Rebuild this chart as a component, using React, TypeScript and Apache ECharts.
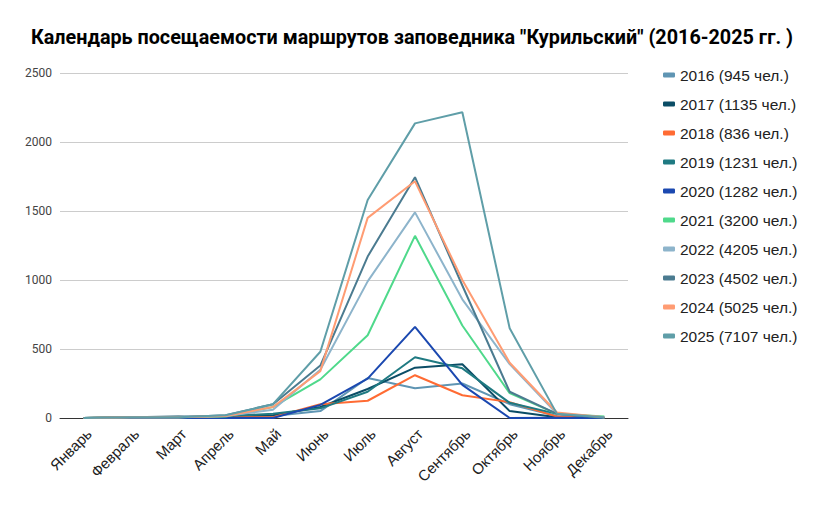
import React, { useEffect, useRef } from "react";
import * as echarts from "echarts";

const months = ["Январь", "Февраль", "Март", "Апрель", "Май", "Июнь", "Июль", "Август", "Сентябрь", "Октябрь", "Ноябрь", "Декабрь"];

const seriesNames = [
  "2016 (945 чел.)",
  "2017 (1135 чел.)",
  "2018 (836 чел.)",
  "2019 (1231 чел.)",
  "2020 (1282 чел.)",
  "2021 (3200 чел.)",
  "2022 (4205 чел.)",
  "2023 (4502 чел.)",
  "2024 (5025 чел.)",
  "2025 (7107 чел.)",
];

const colors = ["#5f95b3", "#0b4d66", "#ff6b33", "#1f7a82", "#1b48b0", "#4fd98b", "#8db4cb", "#4b7b90", "#ff9c73", "#5f9ea8"];

const v2016 = [0, 5, 3, 5, 15, 50, 290, 215, 250, 100, 15, 0];
const v2017 = [0, 5, 10, 5, 20, 80, 210, 365, 390, 50, 5, 0];
const v2018 = [0, 2, 2, 5, 5, 100, 125, 310, 165, 115, 10, 0];
const v2019 = [0, 5, 5, 15, 30, 70, 190, 440, 360, 110, 30, 0];
const v2020 = [0, 0, 0, 0, 0, 95, 285, 660, 240, 0, 2, 0];
const v2021 = [0, 5, 5, 10, 80, 280, 600, 1320, 670, 180, 30, 10];
const v2022 = [0, 5, 5, 15, 60, 350, 990, 1490, 860, 390, 30, 5];
const v2023 = [0, 5, 5, 20, 100, 380, 1170, 1745, 960, 190, 30, 0];
const v2024 = [0, 5, 5, 15, 80, 340, 1450, 1715, 1000, 400, 40, 5];
const v2025 = [0, 5, 5, 20, 100, 480, 1580, 2135, 2215, 650, 30, 5];

const allValues = [v2016, v2017, v2018, v2019, v2020, v2021, v2022, v2023, v2024, v2025];

const yTicks = [0, 500, 1000, 1500, 2000, 2500];

export default function App() {
  const ref = useRef<HTMLDivElement>(null);
  useEffect(() => {
    if (!ref.current) return;
    const chart = echarts.init(ref.current, undefined, { renderer: "svg" });
    chart.setOption({
      animation: false,
      backgroundColor: "#ffffff",
      color: colors,
      title: {
        text: 'Календарь посещаемости маршрутов заповедника "Курильский" (2016-2025 гг. )',
        left: "center",
        top: 22,
        textStyle: { fontFamily: "Roboto, Arial, sans-serif", fontSize: 19.8, fontWeight: "bold", color: "#000" },
      },
      legend: {
        orient: "vertical",
        left: 658,
        top: 62,
        itemWidth: 12,
        itemHeight: 5,
        itemGap: 13,
        icon: "roundRect",
        data: seriesNames,
        textStyle: { fontFamily: "Liberation Sans, Arial, sans-serif", fontSize: 15.5, color: "#222", lineHeight: 14, padding: [0, 0, 0, 0] },
      },
      grid: { left: 60, right: 196, top: 73, bottom: 91 },
      xAxis: {
        type: "category",
        data: months,
        boundaryGap: true,
        axisLine: { lineStyle: { color: "#333", width: 1 } },
        axisTick: { show: false },
        axisLabel: {
          rotate: 45,
          interval: 0,
          margin: 8,
          verticalAlign: "top",
          fontFamily: "Liberation Sans, Arial, sans-serif",
          fontSize: 15,
          color: "#222",
        },
      },
      yAxis: {
        type: "value",
        min: yTicks[0],
        max: yTicks[yTicks.length - 1],
        interval: 500,
        axisLine: { show: false },
        axisTick: { show: false },
        splitLine: { lineStyle: { color: "#cccccc", width: 1 } },
        axisLabel: {
          margin: 8,
          formatter: (v: number) => String(v),
          fontFamily: "Roboto, Arial, sans-serif",
          fontSize: 12,
          color: "#444",
        },
      },
      series: seriesNames.map((name, i) => ({
        name,
        type: "line",
        data: allValues[i],
        showSymbol: false,
        symbol: "none",
        lineStyle: { width: 2, color: colors[i] },
        itemStyle: { color: colors[i] },
      })),
    });
    return () => chart.dispose();
  }, []);
  return <div ref={ref} style={{ position: "absolute", left: 0, top: 0, width: 824, height: 509 }} />;
}
